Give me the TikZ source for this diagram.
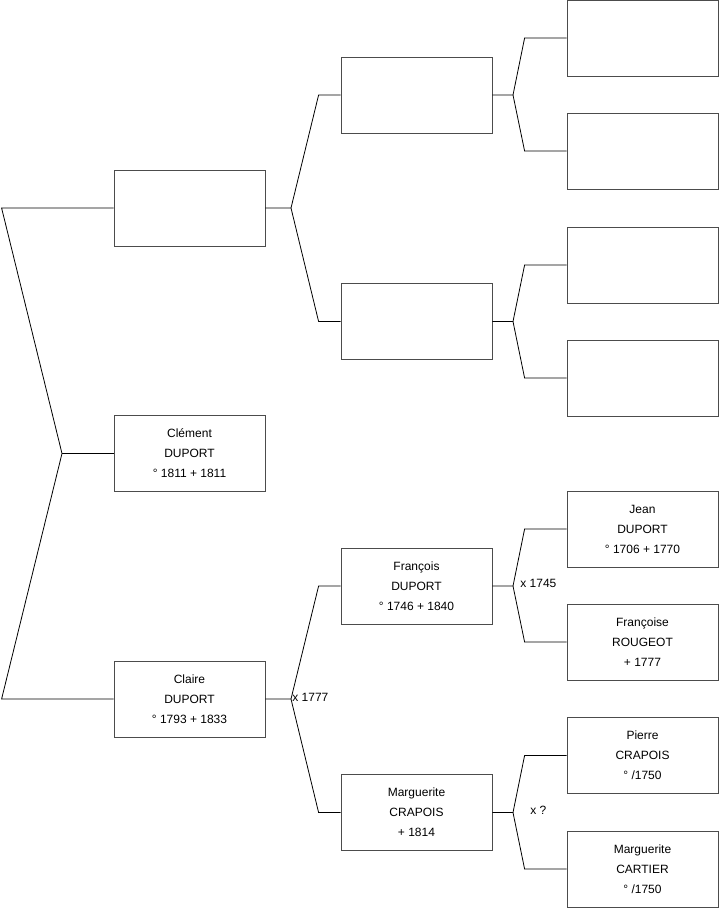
\documentclass[tikz,border=0pt]{standalone}
\usepackage{fontspec}
\setmainfont{Liberation Sans}
\begin{document}
\begin{tikzpicture}[x=1pt, y=-1pt, line width=0.8pt,
  person/.style={draw=black!70, minimum width=151pt, minimum height=76pt, inner sep=0pt, align=center, font=\fontsize{12}{20}\selectfont},
  mariage/.style={anchor=west, inner sep=2pt, font=\fontsize{12}{14}\selectfont}]
\useasboundingbox (0,0) rectangle (719,908);
% generation 1
\node[person] (g1a) at (189.5,208) {};
\node[person] (clement) at (189.5,453.5) {Clément\\DUPORT\\° 1811 + 1811};
\node[person] (claire) at (189.5,699) {Claire\\DUPORT\\° 1793 + 1833};
% generation 2
\node[person] (g2a) at (416.5,95) {};
\node[person] (g2b) at (416.5,321.5) {};
\node[person] (francois) at (416.5,586) {François\\DUPORT\\° 1746 + 1840};
\node[person] (marguerite) at (416.5,812.5) {Marguerite\\CRAPOIS\\+ 1814};
% generation 3
\node[person] (g3a) at (642.5,38) {};
\node[person] (g3b) at (642.5,151) {};
\node[person] (g3c) at (642.5,265) {};
\node[person] (g3d) at (642.5,378) {};
\node[person] (jean) at (642.5,529) {Jean\\DUPORT\\° 1706 + 1770};
\node[person] (francoise) at (642.5,642) {Françoise\\ROUGEOT\\ + 1777};
\node[person] (pierre) at (642.5,755.5) {Pierre\\CRAPOIS\\° /1750};
\node[person] (cartier) at (642.5,869) {Marguerite\\CARTIER\\° /1750};
% forks
\coordinate (f0) at (62,453.5);
\coordinate (f1) at (291,208);
\coordinate (f2) at (291,699);
\coordinate (f3) at (513,95);
\coordinate (f4) at (513,321.5);
\coordinate (f5) at (513,586);
\coordinate (f6) at (513,812.5);
\draw (g1a.west) -- ([xshift=-112pt]g1a.west) -- (f0) -- ([xshift=-112pt]claire.west) -- (claire.west);
\draw (f0) -- (clement.west);
\draw (g1a.east) -- (f1) -- ([xshift=-22pt]g2a.west) -- (g2a.west);
\draw (f1) -- ([xshift=-22pt]g2b.west) -- (g2b.west);
\draw (claire.east) -- (f2) -- ([xshift=-22pt]francois.west) -- (francois.west);
\draw (f2) -- ([xshift=-22pt]marguerite.west) -- (marguerite.west);
\draw (g2a.east) -- (f3) -- ([xshift=-42pt]g3a.west) -- (g3a.west);
\draw (f3) -- ([xshift=-42pt]g3b.west) -- (g3b.west);
\draw (g2b.east) -- (f4) -- ([xshift=-42pt]g3c.west) -- (g3c.west);
\draw (f4) -- ([xshift=-42pt]g3d.west) -- (g3d.west);
\draw (francois.east) -- (f5) -- ([xshift=-42pt]jean.west) -- (jean.west);
\draw (f5) -- ([xshift=-42pt]francoise.west) -- (francoise.west);
\draw (marguerite.east) -- (f6) -- ([xshift=-42pt]pierre.west) -- (pierre.west);
\draw (f6) -- ([xshift=-42pt]cartier.west) -- (cartier.west);
% mariages
\node[mariage] (m1) at (290,697) {x 1777};
\node[mariage] (m2) at (518,583) {x 1745};
\node[mariage] (m3) at (528,810) {x ?};
\end{tikzpicture}
\end{document}
